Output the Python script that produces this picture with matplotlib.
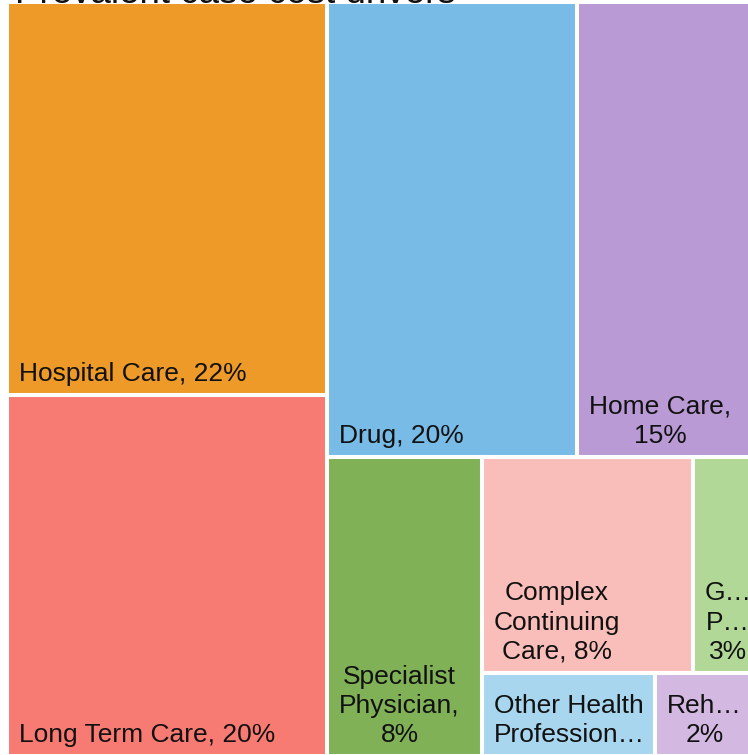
import matplotlib.pyplot as plt
from matplotlib.patches import Rectangle

# data (share of prevalent case cost, %)
categories = ["Hospital Care", "Long Term Care", "Drug", "Home Care",
              "Specialist Physician", "Complex Continuing Care",
              "General Practitioner", "Other Health Professionals",
              "Rehabilitation"]
values = [21.8, 20.0, 19.7, 15.4, 8.0, 7.9, 3.0, 2.5, 1.7]
# label text as it is displayed (wrapped / ellipsised)
labels = ["Hospital Care, 22%", "Long Term Care, 20%", "Drug, 20%",
          "Home Care,\n15%", "Specialist\nPhysician,\n8%",
          "Complex\nContinuing\nCare, 8%", "G\u2026\nP\u2026\n3%",
          "Other Health\nProfession\u2026", "Reh\u2026\n2%"]
colors = ["#ee9a28", "#f77b72", "#77bbe6", "#b99ad5", "#80b157",
          "#f9beb9", "#b2d897", "#a9d6ef", "#d3b9e2"]
# items per strip, strips alternate column / row
groups = [2, 2, 1, 2, 1, 1]

title = "Prevalent case cost drivers"

W_PX, H_PX = 748, 755


def strip_layout(vals, grp, x0, y0, w, h):
    rects = []
    remaining = float(sum(vals))
    vertical = True
    i = 0
    for n in grp:
        chunk = vals[i:i + n]
        s = float(sum(chunk))
        if vertical:
            cw = w * s / remaining
            yy = y0
            for v in chunk:
                ch = h * v / s
                rects.append((x0, yy, cw, ch))
                yy += ch
            x0 += cw
            w -= cw
        else:
            rh = h * s / remaining
            xx = x0
            for v in chunk:
                rw = w * v / s
                rects.append((xx, y0, rw, rh))
                xx += rw
            y0 += rh
            h -= rh
        remaining -= s
        i += n
        vertical = not vertical
    return rects


fig = plt.figure(figsize=(W_PX / 100, H_PX / 100), dpi=100)
ax = fig.add_axes([0, 0, 1, 1])
ax.set_xlim(0, W_PX)
ax.set_ylim(H_PX, 0)
ax.axis('off')

rects = strip_layout(values, groups, 7, 2, 766, 754)

for (x, y, w, h), c, lab in zip(rects, colors, labels):
    ax.add_patch(Rectangle((x, y), w, h, facecolor=c, edgecolor='white',
                           linewidth=2.9))
    ax.text(x + 12, y + h - 9, lab, ha='left', va='bottom',
            multialignment='center', fontsize=19, color='#111111',
            family='Liberation Sans', linespacing=1.27)

fig.text(15 / W_PX, 1 - 3 / H_PX, title, ha='left', va='baseline',
         fontsize=26.5, family='Liberation Sans', color='#111111')

plt.savefig("out.png", dpi=100)
